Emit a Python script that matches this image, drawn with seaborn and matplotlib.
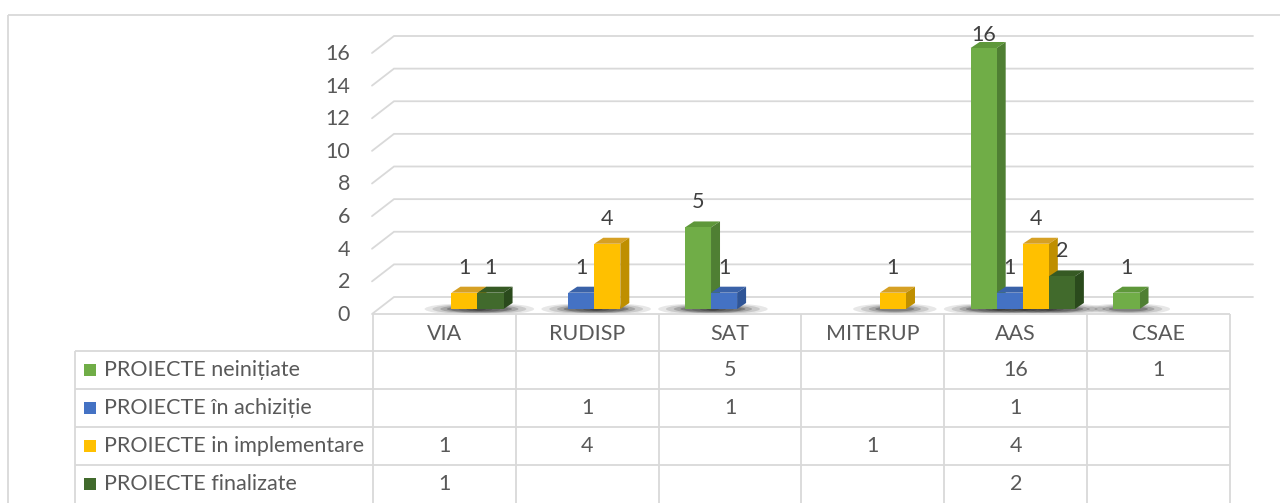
import numpy as np
import pandas as pd
import seaborn as sns
import matplotlib
matplotlib.use("Agg")
import matplotlib.pyplot as plt
from matplotlib.lines import Line2D
from matplotlib.patches import Polygon, Ellipse, Rectangle
import matplotlib.colors as mcolors

# ---------------- data ----------------
categories = ["VIA", "RUDISP", "SAT", "MITERUP", "AAS", "CSAE"]
series_names = ["PROIECTE neinițiate", "PROIECTE în achiziție",
                "PROIECTE in implementare", "PROIECTE finalizate"]
neinitiate = [0, 0, 5, 0, 16, 1]
achizitie = [0, 1, 1, 0, 1, 0]
implementare = [1, 4, 0, 1, 4, 0]
finalizate = [1, 0, 0, 0, 2, 0]
y_ticks = [0, 2, 4, 6, 8, 10, 12, 14, 16]

colors_front = ["#70AD47", "#4472C4", "#FFC000", "#416A2C"]
colors_top = ["#5E973A", "#3A62A8", "#D6A024", "#365A24"]
colors_side = ["#4F7F33", "#2F5597", "#BF8F00", "#2A4A1C"]

series_values = [neinitiate, achizitie, implementare, finalizate]

rows = []
for name, vals in zip(series_names, series_values):
    for c, v in zip(categories, vals):
        rows.append({"cat": c, "series": name, "val": v})
df = pd.DataFrame(rows)

# ---------------- style ----------------
sns.set_theme(style="white")
plt.rcParams["font.family"] = ["Lato", "DejaVu Sans"]
TXT = "#595959"
GRID = "#D9D9D9"
FS = 15.5

W, H = 1280, 503
fig = plt.figure(figsize=(W / 100, H / 100), dpi=100)
fig.patch.set_facecolor("white")


def fx(x):
    return x / W


def fy(y):
    return 1 - y / H


ax = fig.add_axes([fx(380), fy(309), 857 / W, 261 / H])
ax.set_facecolor("none")
sns.barplot(data=df, x="cat", y="val", hue="series", order=categories,
            hue_order=series_names, palette=colors_front, saturation=1,
            width=0.73, dodge=True, linewidth=0, legend=False, ax=ax,
            errorbar=None)
ax.set_xlim(-0.5, 5.5)
ax.set_ylim(0, 16)
ax.axis("off")


def to_px(xd, yd):
    d = ax.transData.transform((xd, yd))
    return d[0], H - d[1]


def to_data(xp, yp):
    return ax.transData.inverted().transform((xp, H - yp))


# ---------------- back wall gridlines ----------------
for v in y_ticks:
    _, yp = to_px(0, v)
    pts = [to_data(372, yp + 5), to_data(394, yp - 12), to_data(1253, yp - 12)]
    ax.plot([p[0] for p in pts], [p[1] for p in pts], color=GRID, lw=1.3,
            clip_on=False, zorder=0.5, solid_joinstyle="miter")
    tx, ty = to_data(350, yp + 6)
    ax.text(tx, ty, str(v), ha="right", va="center", fontsize=FS,
            color=TXT, clip_on=False)

# ---------------- 3D bars ----------------
px_per_x = 857 / 6.0
px_per_y = 261 / 16.0
ddx = 9 / px_per_x
ddy = 6 / px_per_y
hex_front = [mcolors.to_hex(c).lower() for c in colors_front]

for p in list(ax.patches):
    h = p.get_height()
    if h <= 0:
        p.set_visible(False)
        continue
    idx = hex_front.index(mcolors.to_hex(p.get_facecolor()).lower())
    x0 = p.get_x()
    w = p.get_width()
    z = 2 + idx
    p.set_zorder(z)
    top = Polygon([(x0, h), (x0 + w, h), (x0 + w + ddx, h + ddy), (x0 + ddx, h + ddy)],
                  closed=True, facecolor=colors_top[idx], edgecolor="none",
                  zorder=z - 0.01, clip_on=False)
    side = Polygon([(x0 + w, 0), (x0 + w + ddx, ddy), (x0 + w + ddx, h + ddy), (x0 + w, h)],
                   closed=True, facecolor=colors_side[idx], edgecolor="none",
                   zorder=z - 0.01, clip_on=False)
    ax.add_patch(top)
    ax.add_patch(side)
    # soft shadow
    cx = x0 + w / 2 + ddx / 2
    for sw, sh, a in [(3.2, 11, 0.10), (2.6, 9, 0.14), (2.0, 7, 0.20), (1.5, 5, 0.28)]:
        e = Ellipse((cx - w * 0.1, 0.0), w * sw, sh / px_per_y, facecolor="#1a1a1a",
                    edgecolor="none", alpha=a, zorder=1, clip_on=False)
        ax.add_patch(e)
    # data label
    xp, yp = to_px(x0 + w / 2, h)
    ly = max(yp - 25, 35)
    lx, lyd = to_data(xp, ly)
    ax.text(lx, lyd, f"{int(h)}", ha="center", va="center", fontsize=FS,
            color="#404040", clip_on=False, zorder=10)

# ---------------- data table ----------------
col_edges = [to_px(i - 0.5, 0)[0] - 7 for i in range(len(categories) + 1)]
row_edges = [314, 351, 389, 427, 465, 503]
leg_left = 75


def fline(xs, ys):
    fig.add_artist(Line2D([fx(x) for x in xs], [fy(y) for y in ys],
                          transform=fig.transFigure, color=GRID, lw=1.3,
                          solid_capstyle="butt"))


fline([col_edges[0], col_edges[-1]], [row_edges[0], row_edges[0]])
for r in row_edges[1:-1]:
    fline([leg_left, col_edges[-1]], [r, r])
for cxp in col_edges:
    fline([cxp, cxp], [row_edges[0], row_edges[-1]])
fline([leg_left, leg_left], [row_edges[1], row_edges[-1]])

# outer chart border
fline([8, W], [15, 15])
fline([8, 8], [15, H])

hdr_y = (row_edges[0] + row_edges[1]) / 2 + 1
for i, c in enumerate(categories):
    cx = (col_edges[i] + col_edges[i + 1]) / 2
    fig.text(fx(cx), fy(hdr_y), c, ha="center", va="center", fontsize=FS, color=TXT)

for r, (name, vals) in enumerate(zip(series_names, series_values)):
    ry = (row_edges[r + 1] + row_edges[r + 2]) / 2
    fig.add_artist(Rectangle((fx(84), fy(ry + 6)), 12 / W, 12 / H,
                             transform=fig.transFigure, facecolor=colors_front[r],
                             edgecolor="none"))
    fig.text(fx(104), fy(ry), name, ha="left", va="center", fontsize=FS, color=TXT)
    for i, v in enumerate(vals):
        if v:
            cx = (col_edges[i] + col_edges[i + 1]) / 2
            fig.text(fx(cx), fy(ry), str(v), ha="center", va="center",
                     fontsize=FS, color=TXT)

fig.savefig("out.png", dpi=100, facecolor="white")
